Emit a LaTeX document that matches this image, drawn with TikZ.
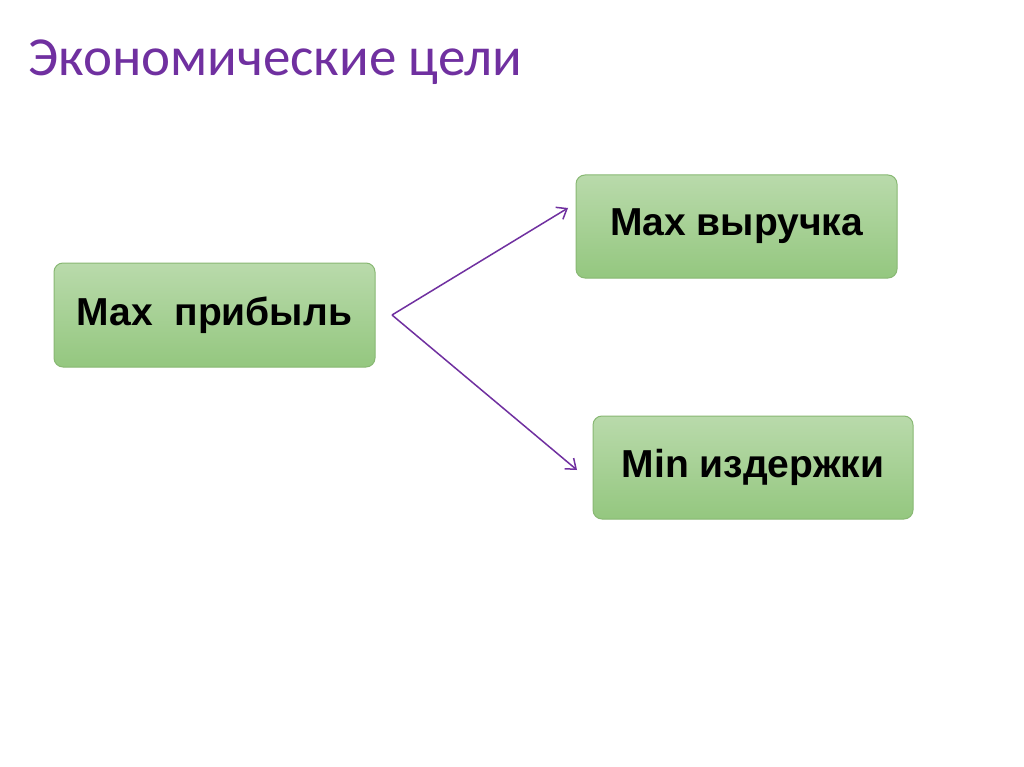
\documentclass[tikz,border=0pt]{standalone}
\usepackage{fontspec}
\setmainfont{Liberation Sans}
\newfontfamily\titlefont{Carlito}
\definecolor{ttl}{HTML}{7030A0}
\definecolor{gtop}{HTML}{B9DAAB}
\definecolor{gbot}{HTML}{94C77F}
\definecolor{gbord}{HTML}{88B873}
\tikzset{gbox/.style={draw=gbord,line width=1pt,rounded corners=9pt,top color=gtop,bottom color=gbot,font=\fontsize{39}{44}\selectfont\bfseries,align=center,inner sep=0pt},
arr/.style={draw=ttl,line width=1.5pt,-{Straight Barb[length=9pt,width=14pt]}}}
\usetikzlibrary{arrows.meta}
\begin{document}
\begin{tikzpicture}[x=1pt,y=-1pt]
\useasboundingbox[fill=white] (0,0) rectangle (1024,767);
\node[anchor=base west,text=ttl,font=\titlefont\fontsize{55}{60}\selectfont,inner sep=0pt] (t) at (28,76) {Экономические цели};
\node[gbox,minimum width=321pt,minimum height=104pt] (a) at (214.5,315) {Max\ \ прибыль};
\node[gbox,minimum width=321pt,minimum height=103pt] (b) at (736.5,226.5) {Max выручка};
\node[gbox,minimum width=320pt,minimum height=103pt] (c) at (753,467.5) {Min издержки};
\coordinate (s) at (392,315);
\draw[arr] (s) -- (568,208);
\draw[arr] (s) -- (577,470);
\end{tikzpicture}
\end{document}
